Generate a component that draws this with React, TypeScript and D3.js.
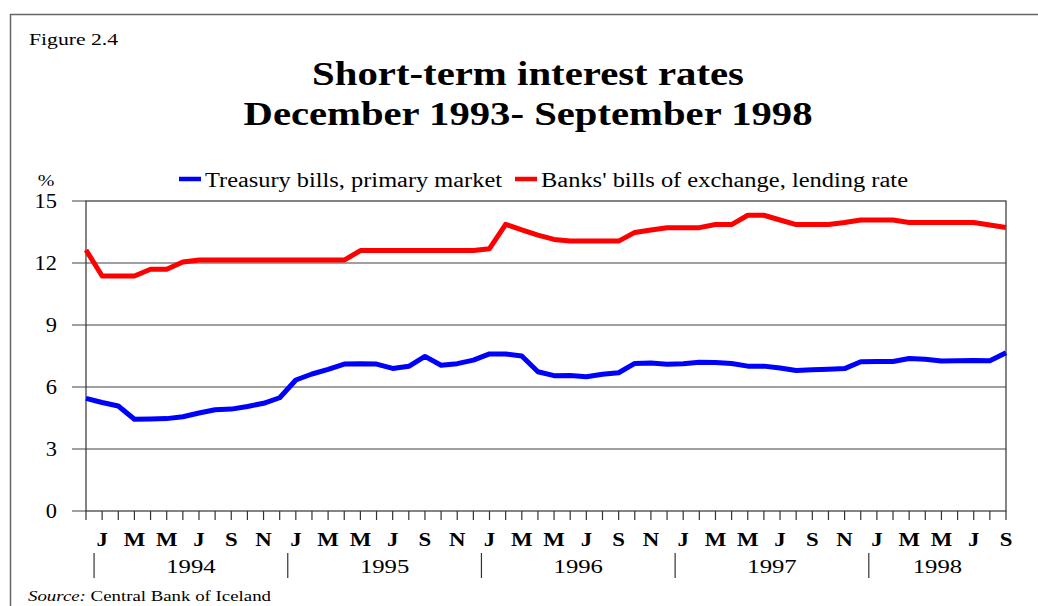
import React, { useRef, useEffect } from "react";
import * as d3 from "d3";

// months from Dec 1993 to Sep 1998
const startMonth = 11; // December
const monthLetters = ["J", "F", "M", "A", "M", "J", "J", "A", "S", "O", "N", "D"];
const years = ["1994", "1995", "1996", "1997", "1998"];
const yTicks = [0, 3, 6, 9, 12, 15];

const treasuryBills = [
  5.45,
  5.25, 5.08, 4.44, 4.45, 4.47, 4.56, 4.74, 4.9, 4.93, 5.06, 5.21, 5.48,
  6.34, 6.63, 6.85, 7.11, 7.13, 7.11, 6.9, 7.0, 7.48, 7.05, 7.13, 7.3,
  7.6, 7.6, 7.5, 6.74, 6.55, 6.56, 6.5, 6.62, 6.69, 7.14, 7.16, 7.1,
  7.12, 7.2, 7.19, 7.14, 7.01, 7.01, 6.92, 6.8, 6.84, 6.86, 6.89, 7.22,
  7.23, 7.23, 7.38, 7.34, 7.26, 7.27, 7.28, 7.27, 7.66,
];

const banksBills = [
  12.63,
  11.37, 11.37, 11.37, 11.7, 11.7, 12.05, 12.14, 12.14, 12.14, 12.14, 12.14, 12.14,
  12.14, 12.14, 12.14, 12.14, 12.6, 12.6, 12.6, 12.6, 12.6, 12.6, 12.6, 12.6,
  12.69, 13.87, 13.6, 13.35, 13.14, 13.06, 13.06, 13.06, 13.06, 13.48, 13.6, 13.71,
  13.71, 13.71, 13.86, 13.86, 14.31, 14.31, 14.08, 13.86, 13.86, 13.86, 13.96, 14.08,
  14.08, 14.08, 13.96, 13.96, 13.96, 13.96, 13.96, 13.84, 13.72,
];

const seriesNames = ["Treasury bills, primary market", "Banks' bills of exchange, lending rate"];
const seriesColors = ["#0000ff", "#ff0000"];

export default function App() {
  const svgRef = useRef<SVGSVGElement>(null);

  useEffect(() => {
    const width = 1038;
    const height = 606;
    const margin = { top: 201, right: 32, bottom: 95, left: 86 };
    const font = "'Liberation Serif', 'Times New Roman', serif";
    const sx = 1.25; // the original text is wide

    const svg = d3.select(svgRef.current).attr("width", width).attr("height", height);
    svg.selectAll("*").remove();

    const n = treasuryBills.length;
    const x = d3.scaleLinear().domain([0, n - 1]).range([margin.left, width - margin.right]);
    const y = d3.scaleLinear().domain([0, 15]).range([height - margin.bottom, margin.top]);

    // outer frame
    svg.append("path")
      .attr("d", `M10.5,${height} V14.5 H${width}`)
      .attr("fill", "none")
      .attr("stroke", "#666")
      .attr("stroke-width", 1.5);

    svg.append("text")
      .attr("x", 29).attr("y", 45)
      .attr("textLength", 89).attr("lengthAdjust", "spacingAndGlyphs")
      .style("font-family", font).style("font-size", "17px")
      .text("Figure 2.4");

    // TITLE
    const titleLines = [
      { t: "Short-term interest rates", y: 85, w: 432 },
      { t: "December 1993- September 1998", y: 125, w: 569 },
    ];
    titleLines.forEach((l) => {
      svg.append("text")
        .attr("x", 528 - l.w / 2).attr("y", l.y)
        .attr("textLength", l.w).attr("lengthAdjust", "spacingAndGlyphs")
        .style("font-family", font).style("font-size", "34px").style("font-weight", "bold")
        .text(l.t);
    });

    // LEGEND
    svg.append("text")
      .attr("transform", `translate(46,186) scale(${sx},1)`)
      .attr("text-anchor", "middle")
      .style("font-family", font).style("font-size", "16px")
      .text("%");
    const legendX = [179, 515];
    const legendW = [297, 367];
    seriesNames.forEach((name, i) => {
      svg.append("line")
        .attr("x1", legendX[i]).attr("x2", legendX[i] + 22)
        .attr("y1", 179).attr("y2", 179)
        .attr("stroke", seriesColors[i]).attr("stroke-width", 4.5);
      svg.append("text")
        .attr("x", legendX[i] + 26).attr("y", 187)
        .attr("textLength", legendW[i]).attr("lengthAdjust", "spacingAndGlyphs")
        .style("font-family", font).style("font-size", "20px")
        .text(name);
    });

    // GRID + Y AXIS
    svg.append("g")
      .selectAll("line")
      .data(yTicks)
      .join("line")
      .attr("x1", margin.left - 14).attr("x2", (d) => (d > 0 && d < 15 ? width - margin.right : margin.left))
      .attr("y1", (d) => y(d)).attr("y2", (d) => y(d))
      .attr("stroke", "#808080").attr("stroke-width", 1.5);

    svg.append("g")
      .selectAll("text")
      .data(yTicks)
      .join("text")
      .attr("transform", (d) => `translate(57,${y(d) + 7}) scale(1.12,1)`)
      .attr("text-anchor", "end")
      .style("font-family", font).style("font-size", "20px")
      .text((d) => d3.format("d")(d));

    // plot box
    svg.append("rect")
      .attr("x", margin.left).attr("y", margin.top)
      .attr("width", width - margin.left - margin.right)
      .attr("height", height - margin.top - margin.bottom)
      .attr("fill", "none").attr("stroke", "#333").attr("stroke-width", 1.2);

    // X AXIS ticks
    const idx = d3.range(n);
    svg.append("g")
      .selectAll("line")
      .data(idx)
      .join("line")
      .attr("x1", (d) => x(d)).attr("x2", (d) => x(d))
      .attr("y1", y(0)).attr("y2", y(0) + 9)
      .attr("stroke", "#333").attr("stroke-width", 1.2);

    const monthOf = (i: number) => (startMonth + i) % 12;
    svg.append("g")
      .selectAll("text")
      .data(idx.filter((i) => monthOf(i) % 2 === 0))
      .join("text")
      .attr("transform", (d) => `translate(${x(d)},546) scale(1.2,1)`)
      .attr("text-anchor", "middle")
      .style("font-family", font).style("font-size", "19px").style("font-weight", "bold")
      .text((d) => monthLetters[monthOf(d)]);

    // year separators and labels
    const janIdx = idx.filter((i) => monthOf(i) === 0);
    svg.append("g")
      .selectAll("line")
      .data(janIdx)
      .join("line")
      .attr("x1", (d) => x(d - 0.5)).attr("x2", (d) => x(d - 0.5))
      .attr("y1", 553).attr("y2", 578)
      .attr("stroke", "#333").attr("stroke-width", 1.2);

    svg.append("g")
      .selectAll("text")
      .data(janIdx)
      .join("text")
      .attr("transform", (d, i) => {
        const end = i < janIdx.length - 1 ? x(janIdx[i + 1] - 0.5) : x(n - 1);
        return `translate(${(x(d - 0.5) + end) / 2},573) scale(1.3,1)`;
      })
      .attr("text-anchor", "middle")
      .style("font-family", font).style("font-size", "19px")
      .text((d, i) => years[i]);

    // LINES
    const line = d3.line<number>().x((d, i) => x(i)).y((d) => y(d));
    [treasuryBills, banksBills].forEach((s, i) => {
      svg.append("path")
        .datum(s)
        .attr("d", line)
        .attr("fill", "none")
        .attr("stroke", seriesColors[i])
        .attr("stroke-width", 5)
        .attr("stroke-linejoin", "round");
    });

    // SOURCE
    const src = svg.append("text")
      .attr("x", 28).attr("y", 601)
      .attr("textLength", 243).attr("lengthAdjust", "spacingAndGlyphs")
      .style("font-family", font).style("font-size", "15px");
    src.append("tspan").style("font-style", "italic").text("Source:");
    src.append("tspan").text(" Central Bank of Iceland");
  }, []);

  return (
    <div style={{ position: "absolute", left: 0, top: 0 }}>
      <svg ref={svgRef}></svg>
    </div>
  );
}
